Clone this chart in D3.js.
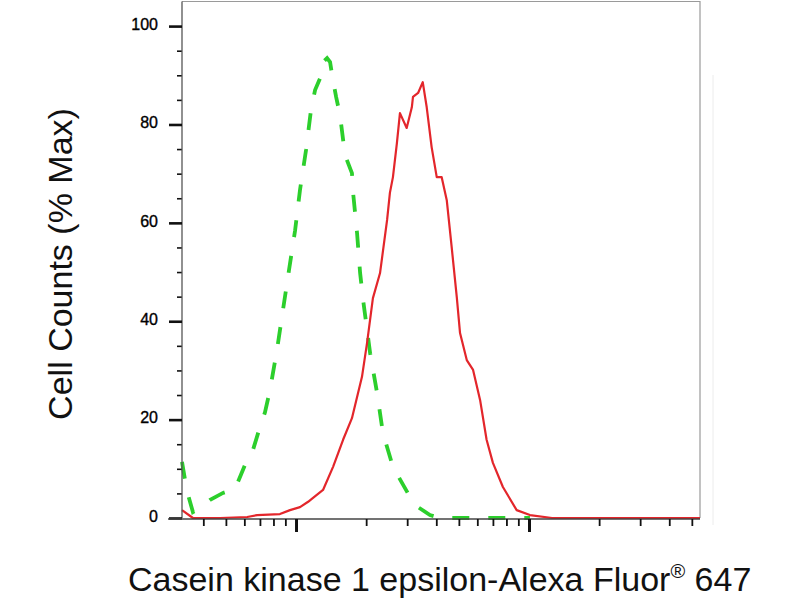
<!DOCTYPE html>
<html>
<head>
<meta charset="utf-8">
<script src="https://cdn.jsdelivr.net/npm/d3@7"></script>
<style>
  body { margin: 0; background: #fff; }
  text { font-family: "Liberation Sans", Arial, sans-serif; }
</style>
</head>
<body>
<div id="chart"></div>
<script>
// Stained sample (red, solid)
const stainedValues = [324, 361, 415, 472, 617, 681, 853, 942, 1040, 1127,
  1183, 1306, 1442, 1592, 1738, 1919, 2018, 2138, 2294, 2460,
  2529, 2606, 2710, 2793, 2985, 3141, 3177, 3342, 3499, 3639,
  3820, 4018, 4217, 4436, 4656, 4898, 5058, 5406, 5754, 6166,
  6577, 7000, 7727, 8851, 10093, 12560, 54200];
const stainedCounts = [1.6, 0, 0, 0, 0.2, 0.6, 0.8, 1.6, 2.2, 3.3,
  4.1, 5.7, 10.4, 15.9, 20.3, 28.7, 35.6, 44.7, 49.8, 60.6,
  66.1, 69.3, 76.2, 82.3, 79.3, 83.5, 85.6, 86.4, 88.6, 83.5,
  75.4, 69.3, 69.3, 64.6, 55.1, 44.9, 37.6, 32.1, 30.1, 24.0,
  15.9, 11.2, 6.3, 1.6, 0.6, 0, 0];

// Isotype control (green, dashed)
const isotypeValues = [324, 334, 344, 361, 387, 428, 486, 547, 604, 653,
  700, 736, 773, 828, 879, 933, 991, 1040, 1104, 1159,
  1207, 1268, 1306, 1359, 1400, 1429, 1486, 1545, 1622, 1738,
  1758, 1828, 1884, 1941, 2080, 2228, 2360, 2606, 3083, 3342,
  3758, 4150, 10093];
const isotypeCounts = [11.4, 7.7, 4.7, 1.2, 2.0, 3.7, 5.1, 5.9, 10.8, 13.8,
  18.5, 21.5, 26.0, 34.1, 42.3, 50.4, 58.5, 66.7, 74.8, 82.9,
  87.0, 89.4, 92.7, 93.5, 92.7, 90.0, 85.6, 81.9, 73.8, 70.1,
  66.1, 57.9, 49.8, 44.3, 33.5, 25.4, 17.3, 10.4, 4.3, 2.2,
  0.6, 0, 0];

const yTicks = [0, 20, 40, 60, 80, 100];
const xMajorTicks = [1000, 10000];
const xTitle = "Casein kinase 1 epsilon-Alexa Fluor";
const yTitle = "Cell Counts (% Max)";

// Set up SVG dimensions
const margin = { top: 1.5, right: 100, bottom: 82, left: 182 };
const width = 800 - margin.left - margin.right;
const height = 600 - margin.top - margin.bottom;

const root = d3.select("#chart")
  .append("svg")
  .attr("width", 800)
  .attr("height", 600);

const svg = root.append("g")
  .attr("transform", `translate(${margin.left},${margin.top})`);

// Scales
const x = d3.scaleLog()
  .domain([324, 54200])
  .range([0, width]);

const y = d3.scaleLinear()
  .domain([0, 105])
  .range([height, 0]);

// log minor ticks (2..9 of each decade) inside the domain
const xMinorTicks = [];
[100, 1000, 10000].forEach(d => {
  for (let k = 2; k <= 9; k++) {
    const v = k * d;
    if (v > x.domain()[0] && v < x.domain()[1]) xMinorTicks.push(v);
  }
});

// Frame (top and right, light grey)
svg.append("path")
  .attr("d", `M0,0H${width}V${height}`)
  .attr("fill", "none")
  .attr("stroke", "#9a9a9a")
  .attr("stroke-width", 1.2);

// faint scan line at right
root.append("line")
  .attr("x1", 713).attr("x2", 713)
  .attr("y1", 75).attr("y2", 525)
  .attr("stroke", "#ececec");

// Curves
const line = d3.line()
  .x(d => x(d[0]))
  .y(d => y(d[1]));

svg.append("path")
  .datum(isotypeValues.map((v, i) => [v, isotypeCounts[i]]))
  .attr("fill", "none")
  .attr("stroke", "#2ccf2c")
  .attr("stroke-width", 3.8)
  .attr("stroke-dasharray", "17,19")
  .attr("d", line);

svg.append("path")
  .datum(stainedValues.map((v, i) => [v, stainedCounts[i]]))
  .attr("fill", "none")
  .attr("stroke", "#e3262b")
  .attr("stroke-width", 2.2)
  .attr("stroke-linejoin", "round")
  .attr("d", line);

// Y axis: minor every 5, major labelled every 20
svg.append("g")
  .call(d3.axisLeft(y).tickValues(d3.range(5, 105, 5).filter(v => v % 20 !== 0)).tickSize(5).tickFormat(""))
  .call(g => g.selectAll(".tick line").attr("stroke", "#111").attr("stroke-width", 1.6))
  .call(g => g.select(".domain").remove());

svg.append("g")
  .call(d3.axisLeft(y).tickValues(yTicks).tickSize(13).tickPadding(11))
  .call(g => g.select(".domain").attr("stroke", "#555").attr("stroke-width", 1.3).attr("d", `M0,0V${height}`))
  .call(g => g.selectAll(".tick line").attr("stroke", "#111").attr("stroke-width", 2.6))
  .call(g => g.selectAll(".tick text")
    .attr("font-family", "'Liberation Sans', Arial, sans-serif")
    .attr("font-size", 16)
    .attr("fill", "#000")
    .attr("stroke", "#000")
    .attr("stroke-width", 0.35)
    .attr("dy", "0.2em"));

// X axis: log ticks, no labels
svg.append("g")
  .attr("transform", `translate(0,${height + 1})`)
  .call(d3.axisBottom(x).tickValues(xMinorTicks).tickSize(7).tickFormat(""))
  .call(g => g.selectAll(".tick line").attr("stroke", "#111").attr("stroke-width", 1.8))
  .call(g => g.select(".domain").attr("stroke", "#444").attr("stroke-width", 1.3).attr("d", `M-14,0H${width}`));

svg.append("g")
  .attr("transform", `translate(0,${height + 1})`)
  .call(d3.axisBottom(x).tickValues(xMajorTicks).tickSize(13).tickFormat(""))
  .call(g => g.selectAll(".tick line").attr("stroke", "#111").attr("stroke-width", 3))
  .call(g => g.select(".domain").remove());

// Axis titles
const xt = root.append("text")
  .attr("x", 128)
  .attr("y", 591)
  .attr("font-size", 34)
  .attr("fill", "#111")
  .text(xTitle);
xt.append("tspan")
  .attr("font-size", 20)
  .attr("dy", -13)
  .text("®");
xt.append("tspan")
  .attr("dy", 13)
  .text(" 647");

root.append("text")
  .attr("transform", "translate(72,264) rotate(-90)")
  .attr("text-anchor", "middle")
  .attr("font-size", 34)
  .attr("fill", "#111")
  .text(yTitle);
</script>
</body>
</html>
